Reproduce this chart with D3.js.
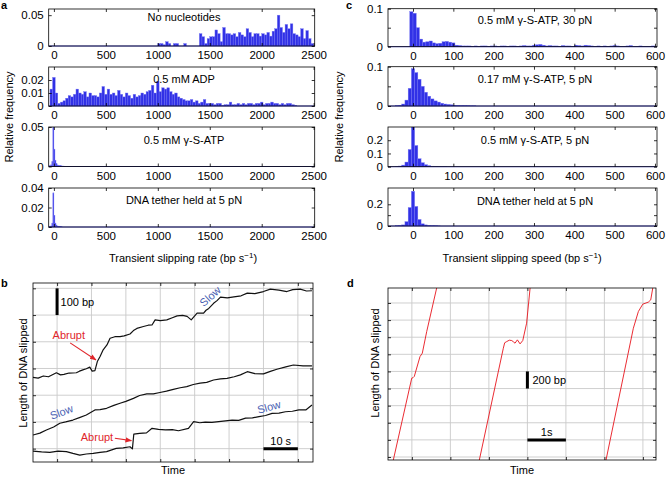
<!DOCTYPE html>
<html><head><meta charset="utf-8">
<script src="https://cdn.jsdelivr.net/npm/d3@7"></script>
<style>
body{margin:0;background:#fff}
svg{font-family:"Liberation Sans",Arial,Helvetica,sans-serif}
</style></head><body>
<svg id="chart" width="667" height="477"></svg>
<script>
// ---------------- DATA ----------------
const aXTicks = [0, 500, 1000, 1500, 2000, 2500];
const cXTicks = [0, 100, 200, 300, 400, 500, 600];
const aTitles = ["No nucleotides", "0.5 mM ADP", "0.5 mM γ-S-ATP", "DNA tether held at 5 pN"];
const cTitles = ["0.5 mM γ-S-ATP, 30 pN", "0.17 mM γ-S-ATP, 5 pN", "0.5 mM γ-S-ATP, 5 pN", "DNA tether held at 5 pN"];
const aYTicks = [[0, 0.05], [0, 0.01, 0.02], [0, 0.05], [0, 0.02, 0.04]];
const cYTicks = [[0, 0.05, 0.1], [0, 0.05, 0.1], [0, 0.1, 0.2], [0, 0.1, 0.2]];
const cYLabels = [[0, 0.1], [0, 0.1], [0, 0.1, 0.2], [0, 0.2]];
const aYMax = [0.06, 0.03, 0.05, 0.04];
const cYMax = [0.1, 0.1, 0.3, 0.35];
const aBinStart = [1000, -37.5, -40, -40];
const aBinWidth = [25, 25, 10, 10];
const cBinStart = [-8, -44, -44, -44];
const cBinWidth = [8, 8, 8, 8];

const a1Freq = [0.004,0.004,0.002,0.007,0.004,0,0.004,0.004,0,0,0.004,0,0,0,0,0,
  0.02,0.015,0.004,0.012,0.015,0.015,0.026,0.02,0.007,0.03,0.02,0.02,0.018,0.02,0.015,0.022,
  0.018,0.015,0.028,0.022,0.015,0.02,0.02,0.016,
  0.02,0.018,0.022,0.016,0.024,0.028,0.05,0.03,0.022,0.035,0.028,0.036,0.02,0.018,0.015,0.028,
  0.012,0.025,0.012,0.004];
const a2Freq = [0.013,0.022,0.01,0.002,0.003,0.004,0.006,0.008,0.007,0.009,0.013,0.01,0.009,0.011,
  0.007,0.01,0.008,0.008,0.007,0.01,0.015,0.009,0.013,0.009,0.01,0.008,0.012,0.009,0.007,0.01,
  0.008,0.006,0.009,0.007,0.008,0.01,0.009,0.011,0.012,0.016,0.01,0.019,0.011,0.014,0.013,0.014,
  0.011,0.009,0.01,0.007,0.006,0.005,0.004,0.004,0.005,0.003,0.004,0.002,0.003,0.005,0.002,0.002,
  0.002,0.001,0.002,0.002,0.0005,0.001,0.001,0.003,0.001,0.001,0.002,0.001,0.002,0.001,0.002,
  0.002,0.001,0.002,0.002,0.003,0.001,0.002,0.002,0.003,0.002,0.002,0.001,0.002,0.001,0.002,
  0.002,0.001,0.0005];
const a3Freq = [0.001,0.002,0.006,0.05,0.022,0.008,0.004,0.002,0.0015,0.001,0.001,0.0007,0.0005,0.0005,0.0003];
const a4Freq = [0.0005,0.001,0.004,0.035,0.012,0.004,0.002,0.001,0.0007,0.0005,0.0003,0.0002];

const c1Freq = [0.092,0.088,0.05,0.02,0.012,0.013,0.015,0.01,0.008,0.009,0.013,0.014,0.012,0.01,
  0.004,0.003,0.002,0.002,0.002,0.001,0.002,0.001,0.002,0.002,0.001,0.002,0.002,0.001,0.002,0.002,
  0.001,0.002,0.002,0.001,0.002,0.003,0.002,0.002,0.004,0.005,0.006,0.004,0.002,0.003,0.002,0.002,
  0.001,0.003,0.002,0.002,0.001,0.004,0.003,0.002,0.004,0.003,0.002,0.001,0.002,0.001,0.002,0.001,
  0.002,0.003,0.002,0.001,0.001,0.002,0.003,0.001,0.001,0.002,0.001,0.001,0.001,0.002];
const c2Freq = [0.001,0.002,0.005,0.015,0.045,0.095,0.085,0.068,0.05,0.035,0.025,0.018,0.013,0.01,
  0.007,0.005,0.004,0.003,0.002,0.0015,0.001,0.001,0.0008,0.0005,0.0005];
const c3Freq = [0.002,0.005,0.012,0.035,0.13,0.3,0.16,0.06,0.03,0.015,0.008,0.004,0.003,0.002,0.001,0.001];
const c4Freq = [0.002,0.005,0.01,0.04,0.17,0.32,0.18,0.06,0.02,0.01,0.005,0.003,0.002,0.001];

// panel b traces: [time (s), length slipped (bp)]
const bTop = [[0,317],[1.5,314],[3,322],[4.5,319],[6.8,334],[8,326],[9,328],[10.5,333],[12.6,334],[13.5,340],
  [14.5,345],[15.5,349],[16.5,355],[17.2,340],[18,342],[18.7,376],[19.5,395],[20.4,420],[21.5,438],
  [22.4,463],[23.8,469],[25.3,469],[26.5,472],[28.2,479],[29.2,492],[30.2,500],[32.1,507],
  [33.5,512],[34.6,513],[35.5,532],[37,529],[38.9,532],[40.5,540],[41.9,547],[43.5,549],[44.8,545],
  [46,532],[47.7,557],[49.6,557],[50.3,568],[51.1,575],[52.5,594],[53.5,604],[54.5,617],[56.5,614],
  [58.4,618],[60.5,622],[62.3,632],[64.5,630],[67,638],[69,647],[71.5,643],[73.8,638],[75.5,645],
  [77.7,647],[79.5,640],[81.1,641]];
const bMid = [[0,101],[2,108],[3.9,120],[6,131],[7.8,145],[9.5,150],[11.6,157],[13.5,166],[15.5,176],
  [18,195],[19.5,196],[21.4,201],[23.5,212],[25.3,220],[27,227],[29.2,238],[31,249],[33.1,255],
  [35,255],[36.9,260],[38.8,265],[40.8,272],[42.8,278],[44.7,282],[46.6,290],[48.6,295],[50.5,298],
  [52.5,307],[54.5,311],[56.4,313],[58.5,319],[60.3,326],[62.3,338],[64.5,331],[67,330],[69,339],
  [70.9,347],[73.5,356],[75.7,363],[78.5,360],[81.1,360]];
const bBot = [[0,41],[2.5,38],[4.9,36],[7.3,41],[9.7,39],[11.6,32],[13.6,26],[15.5,30],[17.5,32],
  [19.5,36],[21.4,39],[24.2,51],[26.2,53],[28.2,57],[28.9,49],[29.3,104],[31,107],[33,109],
  [34.6,126],[36.5,122],[38.5,120],[40.5,121],[42.3,117],[45.2,126],[46.7,151],[48.5,147],[50.1,149],
  [52,148],[54,151],[57.9,157],[59.8,156],[61.8,164],[63.8,165],[65.7,170],[67.6,174],[69.5,182],
  [71.5,183],[73.4,188],[75.4,190],[77.3,195],[79.3,195],[81.1,213]];

// panel d traces: [time (s), length slipped (bp)]
const dTr1 = [[0.1,-40],[0.138,0],[0.616,956],[0.65,962],[0.683,977],[0.831,1208],[0.891,1248],[1.005,1500],[1.265,2012],[1.3,2080]];
const dTr2 = [[2.35,-40],[2.372,0],[2.995,1306],[3.03,1370],[3.083,1384],[3.15,1400],[3.213,1396],[3.26,1380],
  [3.299,1365],[3.36,1404],[3.43,1357],[3.5,1396],[3.6,1599],[3.69,2008],[3.72,2080]];
const dTr3 = [[5.64,-40],[5.662,0],[6.372,1540],[6.502,1735],[6.616,1821],[6.761,1845],[6.823,1871],[6.89,2046],[6.92,2100]];

// ---------------- DRAWING ----------------
const svg = d3.select("#chart");
const barFill = "#3131e6", barEdge = "#7474f3";
let clipId = 0;

function styleAxis(g) {
  g.select(".domain").remove();
  g.selectAll(".tick line").attr("stroke", "#000").attr("stroke-width", 0.8);
  g.selectAll(".tick text").attr("font-size", 11.5).attr("fill", "#000")
    .attr("font-family", '"Liberation Sans",Arial,sans-serif');
}

function histogram(opt) {
  const x = d3.scaleLinear().domain(opt.xDomain).range([opt.x0, opt.x1]);
  const y = d3.scaleLinear().domain([0, opt.yMax]).range([opt.y1, opt.y0]);
  const g = svg.append("g");
  const id = "clip" + (clipId++);
  svg.append("clipPath").attr("id", id).append("rect")
    .attr("x", opt.x0).attr("y", opt.y0).attr("width", opt.x1 - opt.x0).attr("height", opt.y1 - opt.y0);
  const bins = opt.vals.map((v, i) => ({ a: opt.start + i * opt.width, b: opt.start + (i + 1) * opt.width, v }))
    .filter(d => d.v > 0);
  g.append("g").attr("clip-path", `url(#${id})`).selectAll("rect").data(bins).join("rect")
    .attr("x", d => x(d.a)).attr("width", d => x(d.b) - x(d.a))
    .attr("y", d => y(d.v)).attr("height", d => y(0) - y(d.v))
    .attr("fill", barFill).attr("stroke", barEdge).attr("stroke-width", 0.4);
  g.append("line").attr("x1", opt.x0).attr("x2", opt.x1).attr("y1", y(0)).attr("y2", y(0))
    .attr("stroke", barFill).attr("stroke-width", 0.8);
  g.append("g").attr("transform", `translate(0,${opt.y1})`)
    .call(d3.axisBottom(x).tickValues(opt.xTicks).tickSize(-3).tickPadding(5).tickFormat(d3.format("d")))
    .call(styleAxis);
  g.append("g").attr("transform", `translate(0,${opt.y0})`)
    .call(d3.axisTop(x).tickValues(opt.xTicks).tickSize(-3).tickFormat(""))
    .call(styleAxis);
  g.append("g").attr("transform", `translate(${opt.x0},0)`)
    .call(d3.axisLeft(y).tickValues(opt.yTicks).tickSize(-3).tickPadding(5)
      .tickFormat(d => opt.yLabels.includes(d) ? String(d) : ""))
    .call(styleAxis);
  g.append("g").attr("transform", `translate(${opt.x1},0)`)
    .call(d3.axisRight(y).tickValues(opt.yTicks).tickSize(-3).tickFormat(""))
    .call(styleAxis);
  g.append("rect").attr("x", opt.x0).attr("y", opt.y0).attr("width", opt.x1 - opt.x0)
    .attr("height", opt.y1 - opt.y0).attr("fill", "none").attr("stroke", "#000").attr("stroke-width", 0.8);
  g.append("text").attr("x", opt.tx).attr("y", opt.ty).attr("text-anchor", "middle")
    .attr("font-size", 11).text(opt.title);
}

const aRows = [[9, 46], [67, 106], [127, 166.5], [188, 227]];
const cRows = [[8.7, 46.7], [66.7, 106], [127, 166.7], [188, 226]];
const aTitleY = [20.5, 83, 144, 204];
const cTitleY = [24, 83, 144, 204.5];
const aFreqs = [a1Freq, a2Freq, a3Freq, a4Freq];
const cFreqs = [c1Freq, c2Freq, c3Freq, c4Freq];

aRows.forEach((r, i) => histogram({
  x0: 48.7, x1: 314.7, y0: r[0], y1: r[1], xDomain: [-50, 2510], yMax: aYMax[i],
  start: aBinStart[i], width: aBinWidth[i], vals: aFreqs[i], xTicks: aXTicks,
  yTicks: aYTicks[i], yLabels: aYTicks[i], title: aTitles[i], tx: 184, ty: aTitleY[i]
}));
cRows.forEach((r, i) => histogram({
  x0: 388, x1: 657, y0: r[0], y1: r[1], xDomain: [-62, 605], yMax: cYMax[i],
  start: cBinStart[i], width: cBinWidth[i], vals: cFreqs[i], xTicks: cXTicks,
  yTicks: cYTicks[i], yLabels: cYLabels[i], title: cTitles[i], tx: 535, ty: cTitleY[i]
}));

function unitLabel(x, y, pre) {
  const t = svg.append("text").attr("x", x).attr("y", y).attr("text-anchor", "middle").attr("font-size", 11);
  t.append("tspan").text(pre + " (bp s");
  t.append("tspan").attr("dy", -4).attr("font-size", 8).text("−1");
  t.append("tspan").attr("dy", 4).text(")");
}
unitLabel(183, 262, "Transient slipping rate");
unitLabel(522, 262, "Transient slipping speed");

function vLabel(x, y, txt) {
  svg.append("text").attr("transform", `translate(${x},${y}) rotate(-90)`)
    .attr("text-anchor", "middle").attr("font-size", 11).text(txt);
}
vLabel(13, 117, "Relative frequency");
vLabel(343, 117, "Relative frequency");
vLabel(27, 373, "Length of DNA slipped");
vLabel(379, 363, "Length of DNA slipped");

[["a", 1, 9], ["c", 346, 9], ["b", 1, 287], ["d", 347, 287]].forEach(([t, x, y]) =>
  svg.append("text").attr("x", x).attr("y", y).attr("font-size", 11).attr("font-weight", "bold").text(t));

const defs = svg.append("defs");
defs.append("marker").attr("id", "arr").attr("viewBox", "0 0 10 10").attr("refX", 9).attr("refY", 5)
  .attr("markerWidth", 6).attr("markerHeight", 6).attr("orient", "auto-start-reverse")
  .append("path").attr("d", "M0,1 L10,5 L0,9 z").attr("fill", "#e0262b");

function tracePanel(opt) {
  const x = d3.scaleLinear().domain(opt.xDomain).range([opt.x0, opt.x1]);
  const y = d3.scaleLinear().domain(opt.yDomain).range([opt.y1, opt.y0]);
  const g = svg.append("g");
  const id = "clip" + (clipId++);
  svg.append("clipPath").attr("id", id).append("rect")
    .attr("x", opt.x0).attr("y", opt.y0).attr("width", opt.x1 - opt.x0).attr("height", opt.y1 - opt.y0);
  g.selectAll(".gx").data(opt.gridX).join("line").attr("x1", d => x(d)).attr("x2", d => x(d))
    .attr("y1", opt.y0).attr("y2", opt.y1).attr("stroke", "#c9c9c9").attr("stroke-width", 0.9);
  g.selectAll(".gy").data(opt.gridY).join("line").attr("y1", d => y(d)).attr("y2", d => y(d))
    .attr("x1", opt.x0).attr("x2", opt.x1).attr("stroke", "#c9c9c9").attr("stroke-width", 0.9);
  [[d3.axisBottom(x).tickValues(opt.gridX), `translate(0,${opt.y1})`],
   [d3.axisTop(x).tickValues(opt.gridX), `translate(0,${opt.y0})`],
   [d3.axisLeft(y).tickValues(opt.gridY), `translate(${opt.x0},0)`],
   [d3.axisRight(y).tickValues(opt.gridY), `translate(${opt.x1},0)`]].forEach(([ax, tr]) =>
    g.append("g").attr("transform", tr).call(ax.tickSize(-3).tickFormat("")).call(styleAxis));
  const line = d3.line().x(d => x(d[0])).y(d => y(d[1]));
  const lg = g.append("g").attr("clip-path", `url(#${id})`);
  opt.traces.forEach(tr => lg.append("path").attr("d", line(tr)).attr("fill", "none")
    .attr("stroke", opt.color).attr("stroke-width", opt.lw).attr("stroke-linejoin", "round"));
  g.append("rect").attr("x", opt.x0).attr("y", opt.y0).attr("width", opt.x1 - opt.x0)
    .attr("height", opt.y1 - opt.y0).attr("fill", "none").attr("stroke", "#000").attr("stroke-width", 0.8);
  return { x, y, g };
}

// panel b
const bGridX = [7, 17, 27, 37, 47, 57, 67, 77];
const bGridY = [50, 150, 250, 350, 450, 550, 650];
const B = tracePanel({ x0: 33, x1: 313, y0: 283, y1: 462, xDomain: [0, 81.4], yDomain: [0, 670],
  gridX: bGridX, gridY: bGridY, traces: [bTop, bMid, bBot], color: "#111", lw: 1.2 });
svg.append("line").attr("x1", B.x(7)).attr("x2", B.x(7)).attr("y1", B.y(550)).attr("y2", B.y(650))
  .attr("stroke", "#000").attr("stroke-width", 3);
svg.append("text").attr("x", B.x(7) + 3.5).attr("y", (B.y(550) + B.y(650)) / 2 + 4).attr("font-size", 11).text("100 bp");
svg.append("line").attr("x1", B.x(67)).attr("x2", B.x(77)).attr("y1", B.y(50)).attr("y2", B.y(50))
  .attr("stroke", "#000").attr("stroke-width", 3);
svg.append("text").attr("x", B.x(72)).attr("y", B.y(50) - 3.5).attr("text-anchor", "middle").attr("font-size", 11).text("10 s");
const red = "#e0262b", blue = "#4a5fb3";
svg.append("text").attr("x", B.x(10.4)).attr("y", B.y(460)).attr("text-anchor", "middle")
  .attr("font-size", 11).attr("fill", red).text("Abrupt");
svg.append("line").attr("x1", B.x(10.8)).attr("y1", B.y(446)).attr("x2", B.x(18.3)).attr("y2", B.y(382))
  .attr("stroke", red).attr("stroke-width", 1.1).attr("marker-end", "url(#arr)");
svg.append("text").attr("x", B.x(18.6)).attr("y", B.y(80)).attr("text-anchor", "middle")
  .attr("font-size", 11).attr("fill", red).text("Abrupt");
svg.append("line").attr("x1", B.x(23.8)).attr("y1", B.y(89)).attr("x2", B.x(28.6)).attr("y2", B.y(80))
  .attr("stroke", red).attr("stroke-width", 1.1).attr("marker-end", "url(#arr)");
[[51.5, 620, -42], [8.3, 187, -20], [68.6, 206, -15]].forEach(([s, bp, ang]) =>
  svg.append("text").attr("transform", `translate(${B.x(s)},${B.y(bp)}) rotate(${ang})`)
    .attr("text-anchor", "middle").attr("dy", "0.35em").attr("font-size", 11).attr("fill", blue).text("Slow"));
svg.append("text").attr("x", 173).attr("y", 474).attr("text-anchor", "middle").attr("font-size", 11).text("Time");

// panel d
const dGridX = [0.62, 1.62, 2.62, 3.62, 4.62, 5.62, 6.62];
const dGridY = [35, 235, 435, 635, 835, 1035, 1235, 1435, 1635, 1835];
const D = tracePanel({ x0: 388, x1: 656, y0: 288, y1: 460, xDomain: [0, 6.96], yDomain: [0, 2010],
  gridX: dGridX, gridY: dGridY, traces: [dTr1, dTr2, dTr3], color: "#e8141c", lw: 0.9 });
svg.append("line").attr("x1", D.x(3.62)).attr("x2", D.x(3.62)).attr("y1", D.y(835)).attr("y2", D.y(1035))
  .attr("stroke", "#000").attr("stroke-width", 3);
svg.append("text").attr("x", D.x(3.62) + 5).attr("y", (D.y(835) + D.y(1035)) / 2 + 4).attr("font-size", 11).text("200 bp");
svg.append("line").attr("x1", D.x(3.62)).attr("x2", D.x(4.62)).attr("y1", D.y(235)).attr("y2", D.y(235))
  .attr("stroke", "#000").attr("stroke-width", 3);
svg.append("text").attr("x", D.x(4.12)).attr("y", D.y(235) - 3.5).attr("text-anchor", "middle").attr("font-size", 11).text("1s");
svg.append("text").attr("x", 522).attr("y", 474).attr("text-anchor", "middle").attr("font-size", 11).text("Time");
</script>
</body></html>
